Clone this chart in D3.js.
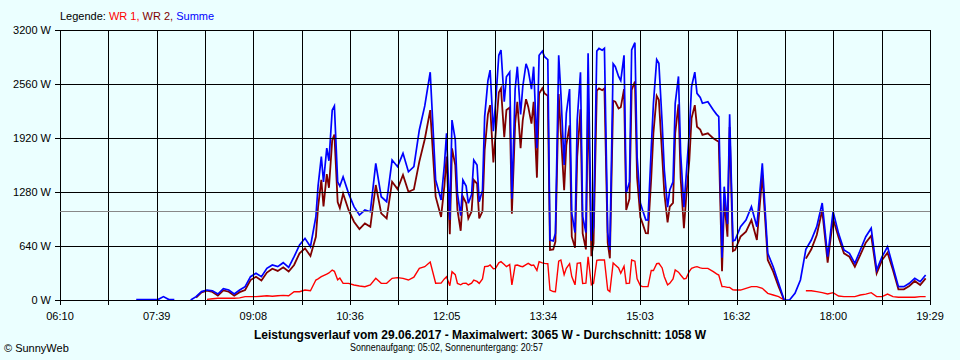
<!DOCTYPE html>
<html lang="de">
<head>
<meta charset="UTF-8">
<title>Leistungsverlauf</title>
<script src="https://d3js.org/d3.v7.min.js"></script>
<style>
body { margin: 0; background: #ebffff; }
svg { display: block; font-family: "Liberation Sans", Arial, sans-serif; font-size: 11px; }
</style>
</head>
<body>
<div id="chart"></div>
<script>
// 5-minute samples
var times = [
  "07:20","07:25","07:30","07:35","07:40","07:45","07:50","07:55",
  "08:00","08:05","08:10","08:15","08:20","08:25","08:30","08:35","08:40","08:45","08:50","08:55",
  "09:00","09:05","09:10","09:15","09:20","09:25","09:30","09:35","09:40","09:45","09:50","09:55",
  "10:00","10:05","10:10","10:15","10:20","10:25","10:30","10:35","10:40","10:45","10:50","10:55",
  "11:00","11:05","11:10","11:15","11:20","11:25","11:30","11:35","11:40","11:45","11:50","11:55",
  "12:00","12:05","12:10","12:15","12:20","12:25","12:30","12:35","12:40","12:45","12:50","12:55",
  "13:00","13:05","13:10","13:15","13:20","13:25","13:30","13:35","13:40","13:45","13:50","13:55",
  "14:00","14:05","14:10","14:15","14:20","14:25","14:30","14:35","14:40","14:45","14:50","14:55",
  "15:00","15:05","15:10","15:15","15:20","15:25","15:30","15:35","15:40","15:45","15:50","15:55",
  "16:00","16:05","16:10","16:15","16:20","16:25","16:30","16:35","16:40","16:45","16:50","16:55",
  "17:00","17:05","17:10","17:15","17:20","17:25","17:30","17:35","17:40","17:45","17:50","17:55",
  "18:00","18:05","18:10","18:15","18:20","18:25","18:30","18:35","18:40","18:45","18:50","18:55",
  "19:00","19:05","19:10","19:15","19:20","19:25"
];

var summe = [
  5,5,5,5,5,40,5,5,
  null,null,0,40,100,118,110,71,134,118,71,118,
  158,276,316,276,375,415,395,442,387,513,652,731,
  632,987,1700,1800,2250,1400,1460,1264,1106,1007,1066,1046,
  1620,1224,1165,1659,1580,1738,1520,1580,2015,2300,2700,1422,
  1185,1975,2133,1264,1422,1146,1659,1165,2173,2725,2330,2963,
  2646,1200,2765,2528,2725,2765,2900,2883,711,790,2449,2212,
  1027,2133,987,2923,869,2982,2982,593,2765,2600,1264,2963,
  1700,1066,948,2331,2805,1541,1304,2331,1738,1461,2528,2449,
  2331,2350,2252,2173,1343,2200,711,869,948,1106,869,1620,
  553,395,198,0,0,79,237,600,711,869,1150,513,
  1050,790,593,553,434,593,750,850,356,513,632,395,
  158,158,198,257,217,296
];

var wr1 = [
  null,null,null,null,null,null,null,null,
  null,null,null,null,null,8,15,20,20,20,20,25,
  40,40,40,45,50,45,50,55,50,98,98,118,
  110,237,276,308,355,240,198,197,178,166,158,178,
  257,197,197,257,265,257,237,270,375,395,450,198,
  200,276,336,197,197,178,237,197,395,415,375,454,
  395,178,415,395,434,415,454,434,118,98,474,375,
  277,434,197,513,197,474,474,99,415,316,197,474,
  250,158,158,350,434,276,198,356,296,257,375,395,
  375,375,336,296,158,150,118,118,138,158,158,138,
  79,59,40,0,null,null,null,110,110,99,87,71,
  87,47,40,40,40,59,70,87,40,40,71,40,
  32,32,32,32,40,40
];

var wr2 = [
  null,null,null,null,null,null,null,null,
  null,null,null,30,90,110,95,51,114,98,51,93,
  118,236,276,231,325,370,345,387,337,415,554,613,
  522,750,1424,1492,1895,1160,1262,1067,928,841,908,868,
  1363,1027,968,1402,1315,1481,1283,1310,1640,1905,2250,1224,
  985,1699,1797,1067,1225,968,1422,968,1778,2310,1955,2509,
  2251,1022,2350,2133,2291,2350,2446,2449,593,692,1975,1837,
  750,1699,790,2410,672,2508,2508,494,2350,2284,1067,2489,
  1450,908,790,1981,2371,1265,1106,1975,1442,1204,2153,2054,
  1956,1975,1916,1877,1185,2050,593,751,810,948,711,1482,
  474,336,158,0,null,null,null,490,601,770,1063,442,
  963,743,553,513,394,534,680,763,316,473,561,355,
  126,126,166,225,177,256
];

// extra samples in between, where the curves jump a lot
var extraTimes = [
  "10:07","10:12","10:17","10:22","10:27",
  "12:03","12:08","12:13","12:18","12:23","12:28","12:33","12:38",
  "12:43","12:48","12:53","12:58","13:03","13:08","13:13","13:18","13:23","13:28","13:33","13:38",
  "13:43","13:48","13:53","13:58","14:03","14:08","14:13","14:18","14:23","14:28","14:33","14:38",
  "14:43","14:48","14:53","14:58","15:03","15:08","15:13","15:18","15:23","15:28","15:33","15:38",
  "15:43","15:48","15:53","15:58","16:13","16:18","16:23","16:28"
];
var extraSumme = [
  1350,1400,1650,2300,1350,
  1600,950,1900,1000,1350,1250,1600,1300,
  2600,2000,2900,2350,2700,2500,2200,2800,2500,1800,2950,2850,
  700,2900,1600,2500,800,2700,800,700,2950,2960,800,2800,
  2650,2900,1400,3050,1150,950,1800,2850,2100,1100,1400,2650,
  1100,2000,2700,2400,2200,500,900,700
];
var extraWr1 = [
  250,290,320,340,260,
  250,170,300,180,200,200,220,250,
  400,370,440,420,420,410,400,420,410,350,440,430,
  100,460,300,430,180,440,200,180,470,474,120,440,
  380,400,200,460,170,158,350,430,380,180,250,330,
  250,340,390,380,310,160,150,120
];
var extraWr2 = [
  1100,1110,1330,1960,1090,
  1350,780,1600,820,1150,1050,1380,1050,
  2200,1630,2460,1930,2280,2090,1800,2380,2090,1450,2510,2420,
  600,2440,1300,2070,620,2260,600,520,2480,2486,680,2360,
  2270,2500,1200,2590,980,792,1450,2420,1720,920,1150,2320,
  850,1660,2310,2020,1890,340,750,580
];

var xLabels = ["06:10","07:39","09:08","10:36","12:05","13:34","15:03","16:32","18:00","19:29"];
var yTicks = [0, 640, 1280, 1920, 2560, 3200];
var average = 1058;

var toMin = function(s) {
  var p = s.split(":");
  return +p[0] * 60 + +p[1];
};

var width = 960, height = 360;
var plotL = 60, plotR = 930, plotT = 30, plotB = 300;

var svg = d3.select("#chart").append("svg")
  .attr("width", width)
  .attr("height", height);

svg.append("rect").attr("width", width).attr("height", height).attr("fill", "#ebffff");

var x = d3.scaleLinear()
  .domain([toMin(xLabels[0]), toMin(xLabels[xLabels.length - 1])])
  .range([plotL, plotR]);

// 18 grid divisions, every second one labelled
var grid = d3.scaleLinear().domain([0, 18]).range([plotL, plotR]);

var y = d3.scaleLinear().domain([0, 3200]).range([plotB, plotT]);

var rows = times.map(function(t, i) {
  return { t: toMin(t), s: summe[i], w1: wr1[i], w2: wr2[i] };
});
extraTimes.forEach(function(t, i) {
  rows.push({ t: toMin(t), s: extraSumme[i], w1: extraWr1[i], w2: extraWr2[i] });
});
rows.sort(function(a, b) { return a.t - b.t; });

var line = function(key) {
  return d3.line()
    .defined(function(d) { return d[key] != null; })
    .x(function(d) { return x(d.t); })
    .y(function(d) { return y(d[key]); });
};

var series = [
  { key: "w1", color: "#ff0000", w: 1.4 },
  { key: "w2", color: "#800000", w: 1.8 },
  { key: "s", color: "#0000ff", w: 1.7 }
];

series.forEach(function(s) {
  svg.append("path")
    .datum(rows)
    .attr("fill", "none")
    .attr("stroke", s.color)
    .attr("stroke-width", s.w)
    .attr("stroke-linejoin", "miter")
    .attr("d", line(s.key));
});

// grid on top of the curves
var g = svg.append("g").attr("shape-rendering", "crispEdges");

g.selectAll(".vg")
  .data(d3.range(19))
  .enter().append("line")
  .attr("x1", function(d) { return Math.round(grid(d)) + 0.5; })
  .attr("x2", function(d) { return Math.round(grid(d)) + 0.5; })
  .attr("y1", plotT)
  .attr("y2", plotB + 5)
  .attr("stroke", "#000");

g.selectAll(".hg")
  .data(yTicks)
  .enter().append("line")
  .attr("x1", plotL - 5)
  .attr("x2", plotR + 1)
  .attr("y1", function(d) { return Math.round(y(d)) + 0.5; })
  .attr("y2", function(d) { return Math.round(y(d)) + 0.5; })
  .attr("stroke", "#000");

g.append("line")
  .attr("x1", plotL).attr("x2", plotR)
  .attr("y1", Math.round(y(average)) + 0.5).attr("y2", Math.round(y(average)) + 0.5)
  .attr("stroke", "#888");

svg.selectAll(".yl")
  .data(yTicks)
  .enter().append("text")
  .attr("x", 51)
  .attr("y", function(d) { return y(d) + 4; })
  .attr("text-anchor", "end")
  .text(function(d) { return d + " W"; });

svg.selectAll(".xl")
  .data(xLabels)
  .enter().append("text")
  .attr("x", function(d, i) { return grid(i * 2); })
  .attr("y", 320)
  .attr("text-anchor", "middle")
  .text(function(d) { return d; });

var leg = svg.append("text").attr("x", 60).attr("y", 20);
leg.append("tspan").attr("fill", "#000").text("Legende: ");
leg.append("tspan").attr("fill", "#ff0000").text("WR 1, ");
leg.append("tspan").attr("fill", "#800000").text("WR 2, ");
leg.append("tspan").attr("fill", "#0000ff").text("Summe");

svg.append("text")
  .attr("x", 480).attr("y", 339)
  .attr("text-anchor", "middle")
  .attr("font-weight", "bold")
  .attr("font-size", "12px")
  .text("Leistungsverlauf vom 29.06.2017 - Maximalwert: 3065 W - Durchschnitt: 1058 W");

svg.append("text")
  .attr("x", 350).attr("y", 351)
  .attr("font-size", "10px")
  .attr("textLength", 193)
  .attr("lengthAdjust", "spacingAndGlyphs")
  .text("Sonnenaufgang: 05:02, Sonnenuntergang: 20:57");

svg.append("text")
  .attr("x", 4).attr("y", 352)
  .text("© SunnyWeb");
</script>
</body>
</html>
